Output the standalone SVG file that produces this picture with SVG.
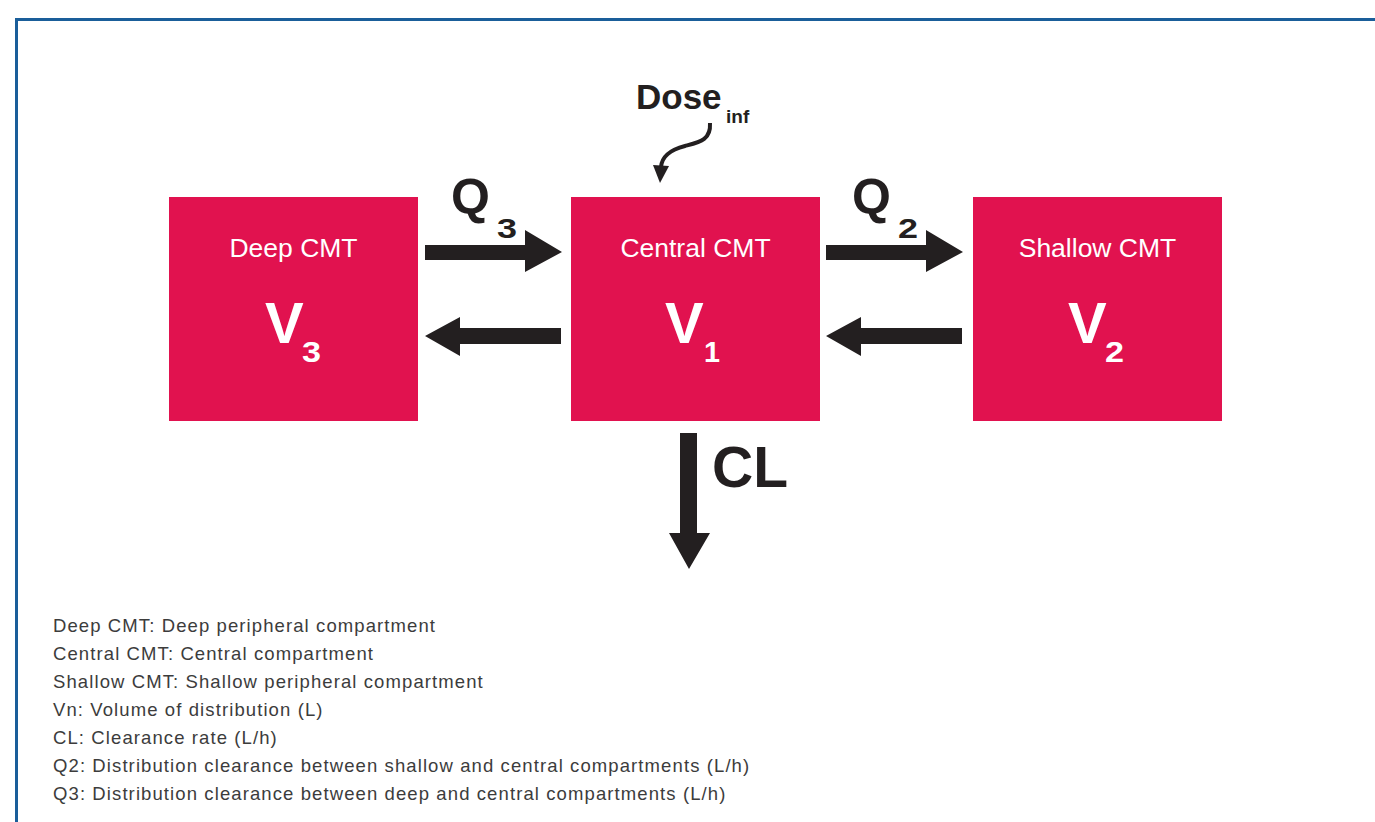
<svg xmlns="http://www.w3.org/2000/svg" width="1375" height="822" viewBox="0 0 1375 822">
<style>
.box{fill:#e1124f}
.lbl{font-family:"Liberation Sans",Arial,sans-serif;fill:#fff;font-size:26.5px;text-anchor:middle}
.v{font-family:"Liberation Sans",Arial,sans-serif;fill:#fff;font-weight:bold;font-size:58px}
.blk{font-family:"Liberation Sans",Arial,sans-serif;fill:#231f20;font-weight:bold}
.arr{fill:#231f20}
.leg{font-family:"Liberation Sans",Arial,sans-serif;fill:#3c3c3c;font-size:18.5px;letter-spacing:1.1px}
</style>
<rect width="1375" height="822" fill="#fff"/>
<path d="M16.5 840 V19.5 H1400" fill="none" stroke="#1a5e9a" stroke-width="3"/>
<g id="deep">
<rect class="box" x="169" y="197" width="249" height="224"/>
<text class="lbl" x="293.5" y="257">Deep CMT</text>
<text class="v" x="265" y="343">V<tspan x="302" y="362" font-size="30" textLength="19" lengthAdjust="spacingAndGlyphs">3</tspan></text>
</g>
<g id="central">
<rect class="box" x="571" y="197" width="249" height="224"/>
<text class="lbl" x="695.5" y="257">Central CMT</text>
<text class="v" x="665" y="343">V<tspan x="704" y="362" font-size="30" textLength="16" lengthAdjust="spacingAndGlyphs">1</tspan></text>
</g>
<g id="shallow">
<rect class="box" x="973" y="197" width="249" height="224"/>
<text class="lbl" x="1097.5" y="257">Shallow CMT</text>
<text class="v" x="1068" y="343">V<tspan x="1105" y="362" font-size="30" textLength="19" lengthAdjust="spacingAndGlyphs">2</tspan></text>
</g>
<g id="connectors">
<polygon class="arr" points="425,245 525,245 525,230 562,252 525,272 525,260 425,260"/>
<polygon class="arr" points="561,328 460,328 460,317 425,336 460,356 460,344 561,344"/>
<polygon class="arr" points="826,245 926,245 926,230 963,252 926,272 926,260 826,260"/>
<polygon class="arr" points="962,328 861,328 861,317 826,336 861,356 861,344 962,344"/>
<polygon class="arr" points="680,433 697,433 697,533 710,533 689,569 669,533 680,533"/>
<path d="M710 123 C711 140 700 142 685 146 C670 150 662 156 661 167" fill="none" stroke="#231f20" stroke-width="4"/>
<polygon class="arr" points="653,165 669,166 660,183"/>
</g>
<g id="labels">
<text class="blk" x="451" y="214" font-size="50">Q<tspan x="497" y="238" font-size="28" textLength="20" lengthAdjust="spacingAndGlyphs">3</tspan></text>
<text class="blk" x="852" y="214" font-size="50">Q<tspan x="898" y="238" font-size="28" textLength="20" lengthAdjust="spacingAndGlyphs">2</tspan></text>
<text class="blk" x="712" y="487" font-size="57">CL</text>
<text class="blk" x="636" y="109" font-size="35">Dose<tspan x="726" y="123" font-size="19">inf</tspan></text>
</g>
<g id="legend">
<text class="leg" x="53" y="632">Deep CMT: Deep peripheral compartment</text>
<text class="leg" x="53" y="660">Central CMT: Central compartment</text>
<text class="leg" x="53" y="688">Shallow CMT: Shallow peripheral compartment</text>
<text class="leg" x="53" y="716">Vn: Volume of distribution (L)</text>
<text class="leg" x="53" y="744">CL: Clearance rate (L/h)</text>
<text class="leg" x="53" y="772">Q2: Distribution clearance between shallow and central compartments (L/h)</text>
<text class="leg" x="53" y="800">Q3: Distribution clearance between deep and central compartments (L/h)</text>
</g>
</svg>
